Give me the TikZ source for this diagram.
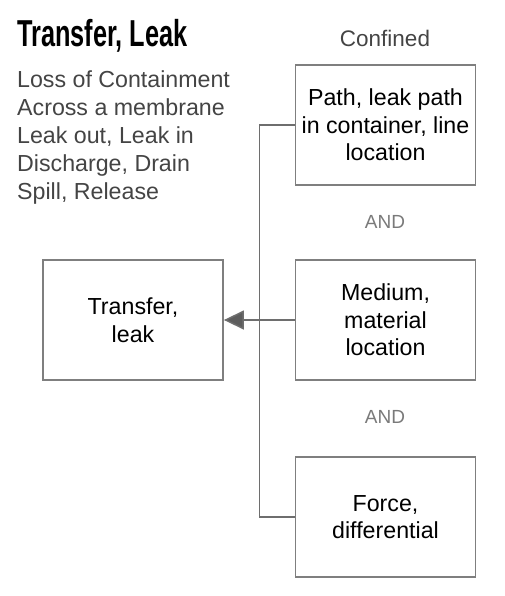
\documentclass[tikz,border=0pt]{standalone}
\usepackage{fontspec}
\setmainfont{Liberation Sans}
\usetikzlibrary{arrows.meta}
\definecolor{boxgray}{HTML}{7F7F7F}
\definecolor{linegray}{HTML}{6E6E6E}
\definecolor{textgray}{HTML}{444444}
\definecolor{andgray}{HTML}{7A7A7A}
\begin{document}
\begin{tikzpicture}[x=1pt,y=-1pt,
  box/.style={draw=boxgray,line width=1.8pt,minimum width=180pt,minimum height=120pt,
    align=center,inner sep=0pt,font=\fontsize{23.2}{27.5}\selectfont,text=black},
  conn/.style={draw=linegray,line width=1.5pt},
  andlabel/.style={text=andgray,font=\fontsize{19}{22}\selectfont,inner sep=0pt}]
\useasboundingbox (0,0) rectangle (505,596);
\node[anchor=base west,inner sep=0pt,font=\bfseries\fontsize{37.5}{40}\selectfont] (title) at (17,47) {\scalebox{0.675}[1]{Transfer, Leak}};
\node[anchor=north west,inner sep=0pt,align=left,text=textgray,font=\fontsize{23.2}{28}\selectfont] (desc) at (17,70)
  {Loss of Containment\\Across a membrane\\Leak out, Leak in\\Discharge, Drain\\Spill, Release};
\node[inner sep=0pt,text=textgray,font=\fontsize{22.5}{26}\selectfont] (conf) at (385,38) {Confined};
\node[box] (p) at (385.5,125) {Path, leak path\\in container, line\\location};
\node[andlabel] (and1) at (385,222) {AND};
\node[box] (m) at (385.5,320) {Medium,\\material\\location};
\node[andlabel] (and2) at (385,417) {AND};
\node[box] (f) at (385.5,517) {Force,\\differential};
\node[box] (t) at (133,320) {Transfer,\\leak};
\draw[conn] (p.west) -- ++(-35,0) coordinate (jt) |- (f.west);
\draw[conn,-{Triangle[length=20pt,width=19pt,fill=linegray!85!black]}] (m.west) -- (t.east);
\end{tikzpicture}
\end{document}
